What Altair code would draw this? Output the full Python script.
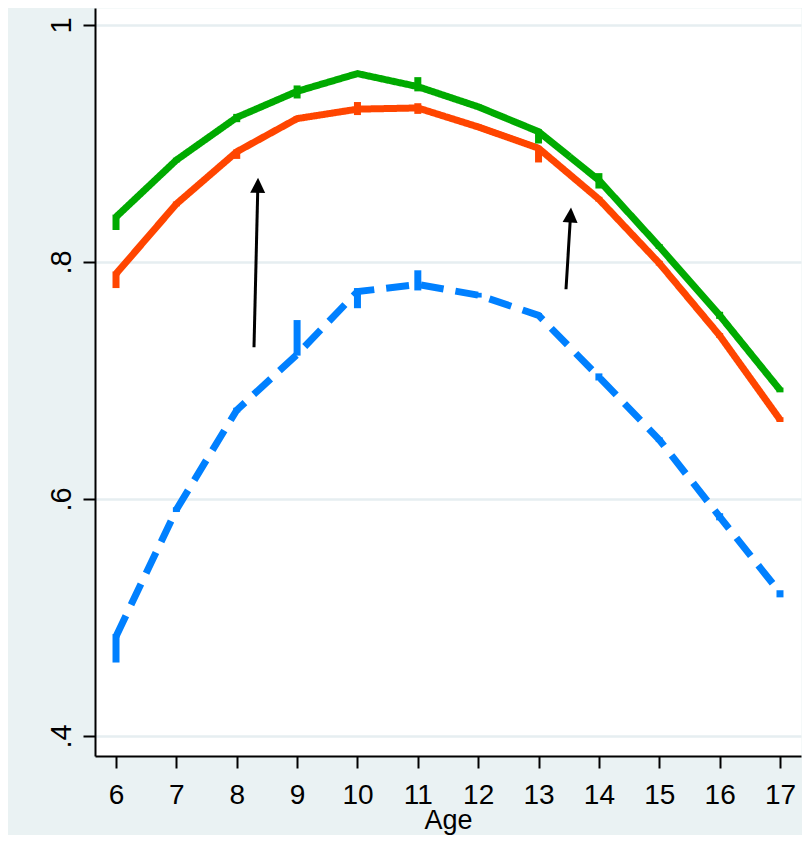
import math
import altair as alt
import pandas as pd

# ---------------- data ----------------
ages = list(range(6, 18))

green_pt = [0.838, 0.886, 0.922, 0.944, 0.959, 0.948, 0.931, 0.910, 0.869, 0.813, 0.755, 0.692]
green_lo = [0.827, 0.884, 0.918, 0.938, 0.957, 0.944, 0.929, 0.900, 0.862, 0.811, 0.752, 0.690]
green_hi = [0.840, 0.888, 0.925, 0.949, 0.960, 0.956, 0.933, 0.912, 0.875, 0.815, 0.758, 0.694]

red_pt = [0.790, 0.849, 0.893, 0.921, 0.929, 0.930, 0.914, 0.896, 0.853, 0.799, 0.738, 0.667]
red_lo = [0.778, 0.847, 0.887, 0.919, 0.924, 0.925, 0.912, 0.884, 0.851, 0.797, 0.736, 0.665]
red_hi = [0.792, 0.851, 0.895, 0.923, 0.935, 0.934, 0.916, 0.897, 0.855, 0.801, 0.740, 0.669]

blue_pt = [0.484, 0.591, 0.675, 0.722, 0.775, 0.781, 0.772, 0.755, 0.703, 0.650, 0.585, 0.521]
blue_lo = [0.462, 0.589, 0.673, 0.721, 0.761, 0.776, 0.770, 0.753, 0.700, 0.648, 0.582, 0.517]
blue_hi = [0.486, 0.593, 0.677, 0.751, 0.778, 0.793, 0.774, 0.757, 0.706, 0.652, 0.588, 0.523]

series_names = ["Series A", "Series B", "Series C"]
series_colors = ["#00aa00", "#ff4500", "#0080ff"]

arrow_x_start = [8.286, 13.455]
arrow_y_start = [0.728, 0.777]
arrow_x_tip = [8.353, 13.538]
arrow_y_tip = [0.871, 0.846]

x_ticks = ages
y_ticks = [0.4, 0.6, 0.8, 1.0]

# ---------------- build tables ----------------
rows = []
for name, pts, los, his in [
    ("Series A", green_pt, green_lo, green_hi),
    ("Series B", red_pt, red_lo, red_hi),
    ("Series C", blue_pt, blue_lo, blue_hi),
]:
    for a, p, l, h in zip(ages, pts, los, his):
        rows.append({"age": a, "series": name, "pt": p, "lo": l, "hi": h})
df = pd.DataFrame(rows)

W, H = 706, 748
x_dom = [5.652, 17.348]
y_dom = [0.38312, 1.01435]
px_x = W / (x_dom[1] - x_dom[0])
px_y = H / (y_dom[1] - y_dom[0])

arrows = []
for xs_, ys_, xt, yt in zip(arrow_x_start, arrow_y_start, arrow_x_tip, arrow_y_tip):
    ang = math.degrees(math.atan2((xt - xs_) * px_x, (yt - ys_) * px_y))
    frac = (8 / px_y) / (yt - ys_)
    arrows.append({"xs": xs_, "ys": ys_, "xt": xt, "yt": yt,
                   "ye": yt - 8 / px_y, "xe": xt - (xt - xs_) * frac,
                   "ang": ang})
adf = pd.DataFrame(arrows)

FONT = "Liberation Sans"

xs = alt.Scale(domain=x_dom, nice=False, zero=False)
ys = alt.Scale(domain=y_dom, nice=False, zero=False)

x_axis = alt.Axis(values=x_ticks, title="Age", labelFontSize=28, titleFontSize=27,
                  labelFont=FONT, titleFont=FONT, titleFontWeight="normal",
                  tickSize=12, tickWidth=2, tickColor="black", domainColor="black",
                  domainWidth=2, labelColor="black", titleColor="black", grid=False,
                  labelBaseline="alphabetic", labelPadding=35, labelFlush=False,
                  titleBaseline="alphabetic", titleY=72)
y_axis = alt.Axis(values=y_ticks, title="", labelFontSize=29, labelFont=FONT,
                  labelExpr="datum.value >= 1 ? '1' : '.' + round(datum.value * 10)",
                  labelAngle=270, labelAlign="center", labelBaseline="alphabetic",
                  labelPadding=13, labelFlush=False,
                  tickSize=12, tickWidth=2, tickColor="black", domainColor="black",
                  domainWidth=2, labelColor="black", grid=True, gridColor="#e6eef1",
                  gridWidth=2.5)


def X(field):
    return alt.X(field, scale=xs, axis=x_axis, title="Age")


def Y(field):
    return alt.Y(field, scale=ys, axis=y_axis, title="")


base = alt.Chart(df)
layers = []
for name, color, dash in [("Series C", "#0080ff", [23, 12]),
                          ("Series B", "#ff4500", [1, 0]),
                          ("Series A", "#00aa00", [1, 0])]:
    sub = base.transform_filter(alt.datum.series == name)
    rules = sub.mark_rule(strokeWidth=7, color=color, strokeCap="butt").encode(
        x=X("age:Q"), y=Y("lo:Q"), y2="hi:Q",
    )
    line = sub.mark_line(strokeWidth=7, color=color, strokeDash=dash).encode(
        x=X("age:Q"), y=Y("pt:Q"),
    )
    layers += [rules, line]

shaft = alt.Chart(adf).mark_rule(strokeWidth=3, color="black").encode(
    x=X("xs:Q"), y=Y("ys:Q"), x2="xe:Q", y2="ye:Q")
head = alt.Chart(adf).mark_point(shape="M0,0L1,2L-1,2Z", size=225, filled=True,
                                 color="black", opacity=1, strokeWidth=0).encode(
    x=X("xt:Q"), y=Y("yt:Q"),
    angle=alt.Angle("ang:Q", scale=None))

chart = alt.layer(*layers, shaft, head).properties(
    width=W, height=H,
    autosize=alt.AutoSizeParams(type="none"),
    padding={"left": 87, "top": 0, "right": 1, "bottom": 79},
    background="#eaf2f3",
).configure_view(fill="white", stroke="transparent")

chart.save("out.html", embed_options={"renderer": "svg", "actions": False})
